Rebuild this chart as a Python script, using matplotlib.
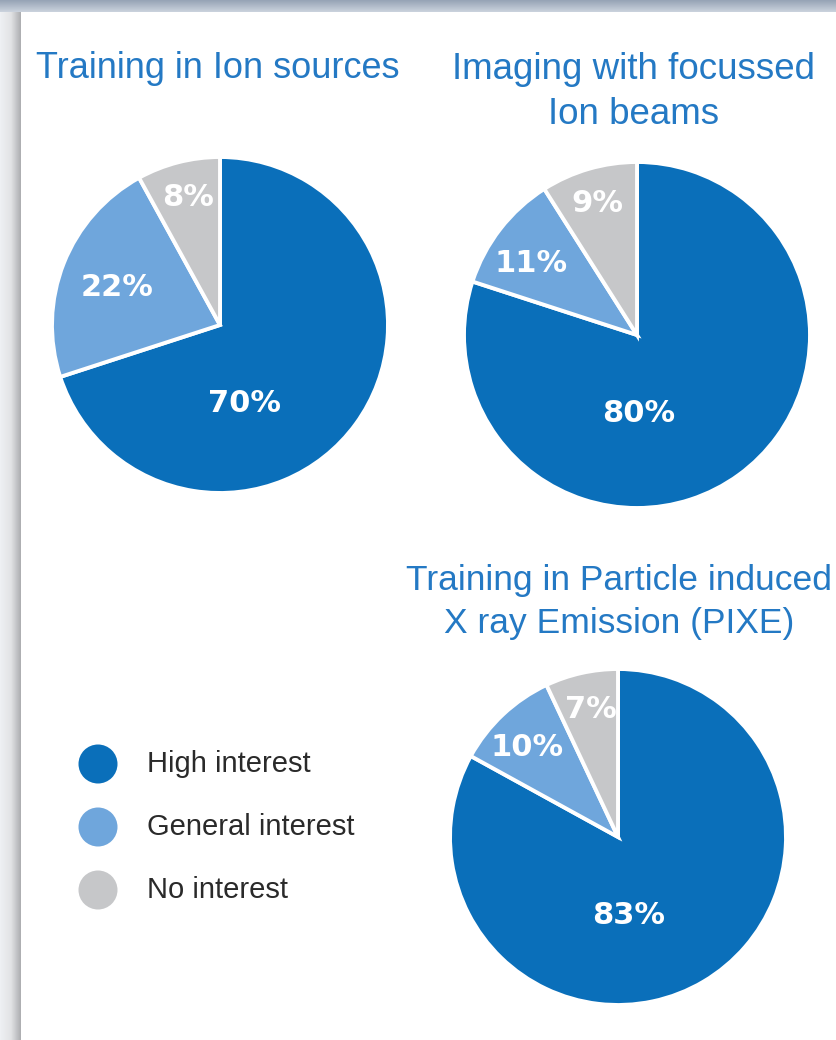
import numpy as np
import matplotlib
matplotlib.use("Agg")
import matplotlib.pyplot as plt
from matplotlib.patches import Rectangle, Circle
from matplotlib.colors import LinearSegmentedColormap

W, H = 836, 1040
plt.rcParams["font.family"] = ["Liberation Sans", "DejaVu Sans"]

# survey answers, percent per topic
categories = ["High interest", "General interest", "No interest"]
ion_sources = [70, 22, 8]
focussed_beams = [80, 11, 9]
pixe = [83, 10, 7]
titles = ["Training in Ion sources",
          "Imaging with focussed\nIon beams",
          "Training in Particle induced\nX ray Emission (PIXE)"]

colors = ["#0a6fba", "#6fa6dc", "#c6c7c9"]
title_color = "#2479c4"

# layout in pixels from the top-left corner
pie_layout = [  # centre x, centre y, radius
    (220, 325, 168),
    (637, 335, 173),
    (618, 837, 168),
]
title_pos = [(218, 68), (634, 92), (619, 602)]
title_size = [26, 26.5, 25.5]
label_pos = [
    [(244, 403), (117, 287), (188, 197)],
    [(639, 413), (531, 264), (597, 203)],
    [(629, 915), (527, 748), (591, 710)],
]

fig = plt.figure(figsize=(W / 100, H / 100), dpi=100)
fig.patch.set_facecolor("#d9dde3")
ax = fig.add_axes([0, 0, 1, 1])

def yy(y):
    return H - y

# frame: grey shadow on the left, blue-grey bar on top, white panel
top = np.linspace(0, 1, 14)[:, None] * np.ones((1, 50))
ax.imshow(top, extent=(0, W, yy(14), yy(0)), cmap=LinearSegmentedColormap.from_list("t", ["#97a4b6", "#d3dae3"]),
          aspect="auto", zorder=0, origin="upper")
left = np.ones((50, 1)) * np.linspace(0, 1, 22)[None, :]
ax.imshow(left, extent=(0, 22, yy(H), yy(12)), cmap=LinearSegmentedColormap.from_list("l", ["#eef0f3", "#e2e3e5", "#a9aaad"]),
          aspect="auto", zorder=0)
ax.add_patch(Rectangle((21, 0), W - 21, yy(12), facecolor="white", edgecolor="none", zorder=1))

data = [ion_sources, focussed_beams, pixe]
for vals, (cx, cy, r), lbls, title, tpos, ts in zip(data, pie_layout, label_pos, titles, title_pos, title_size):
    wedges, _ = ax.pie(vals, colors=colors, startangle=90, counterclock=False,
                       center=(cx, yy(cy)), radius=r,
                       wedgeprops=dict(edgecolor="white", linewidth=2.8))
    for w in wedges:
        w.set_zorder(2)
    for v, (lx, ly) in zip(vals, lbls):
        ax.text(lx, yy(ly), f"{v}%", color="white", fontsize=22, fontweight="bold",
                family="DejaVu Sans", ha="center", va="center", zorder=3)
    ax.text(tpos[0], yy(tpos[1]), title, color=title_color, fontsize=ts, ha="center", va="center",
            linespacing=1.38, zorder=3)

# legend
for i, (cat, col) in enumerate(zip(categories, colors)):
    y = [764, 827, 890][i]
    ax.add_patch(Circle((98, yy(y)), 19.5, facecolor=col, edgecolor="none", zorder=2))
    ax.text(147, yy(y), cat, fontsize=21, color="#2a2a2a", ha="left", va="center", zorder=3)

ax.set_xlim(0, W)
ax.set_ylim(0, H)
ax.set_aspect("auto")
ax.axis("off")
fig.savefig("out.png", dpi=100)
